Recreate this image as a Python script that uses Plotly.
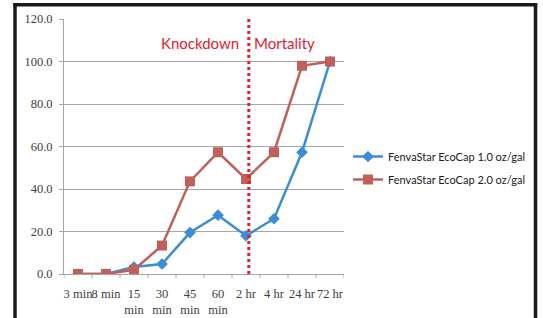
import plotly.graph_objects as go

categories = ["3 min", "8 min", "15<br>min", "30<br>min", "45<br>min", "60<br>min",
              "2 hr", "4 hr", "24 hr", "72 hr"]
series1_name = "FenvaStar EcoCap 1.0 oz/gal"
series1 = [0.0, 0.0, 3.3, 4.7, 19.5, 27.7, 18.0, 26.0, 57.3, 100.0]
series2_name = "FenvaStar EcoCap 2.0 oz/gal"
series2 = [0.0, 0.0, 2.0, 13.4, 43.6, 57.3, 44.7, 57.3, 98.0, 100.0]
y_ticks = [0, 20, 40, 60, 80, 100, 120]

blue = "#3b8ed4"
red = "#c1605a"
grid = "#a6a6a6"

fig = go.Figure()
fig.add_trace(go.Scatter(
    x=list(range(len(categories))), y=series1, name=series1_name, mode="lines+markers",
    line=dict(color=blue, width=2.5), marker=dict(symbol="diamond", size=9, color=blue),
    legendgroup="a"))
fig.add_trace(go.Scatter(
    x=list(range(len(categories))), y=series2, name=series2_name, mode="lines+markers",
    line=dict(color=red, width=2.5), marker=dict(symbol="square", size=10, color=red),
    legendgroup="b"))

L, T, W, H = 64, 19, 280, 255

def px(x):
    return (x - L) / W

def py(y):
    return (T + H - y) / H

fig.update_layout(
    width=543, height=318,
    margin=dict(l=L, r=543 - L - W, t=T, b=318 - T - H, autoexpand=False),
    paper_bgcolor="white", plot_bgcolor="white",
    showlegend=True,
    legend=dict(x=px(348), y=py(142), xanchor="left", yanchor="top",
                font=dict(family="Lato", size=11, color="#202020"),
                tracegroupgap=4, traceorder="grouped", bgcolor="rgba(0,0,0,0)"),
    xaxis=dict(
        tickmode="array", tickvals=list(range(len(categories))), ticktext=categories,
        range=[-0.5, len(categories) - 0.5], tickangle=0,
        showgrid=False, showline=True, linecolor=grid, linewidth=1,
        ticks="", ticklabelstandoff=8,
        tickfont=dict(family="Liberation Serif", size=12.5, color="#404040"),
        zeroline=False),
    yaxis=dict(
        range=[0, 120], tickvals=y_ticks, tickformat=".1f",
        showgrid=True, gridcolor=grid, gridwidth=1,
        showline=True, linecolor=grid, linewidth=1,
        ticks="outside", ticklen=4, tickcolor=grid, ticklabelstandoff=4,
        tickfont=dict(family="Liberation Serif", size=12.5, color="#404040"),
        zeroline=False),
)

shapes = []
# category boundary tick marks on the x axis
for i in range(len(categories) + 1):
    shapes.append(dict(type="line", xref="x", yref="paper", x0=i - 0.5, x1=i - 0.5,
                       y0=0, y1=-4 / H, line=dict(color=grid, width=1)))
# dotted divider
shapes.append(dict(type="line", xref="x", yref="y", x0=6.1, x1=6.1, y0=0, y1=121.5,
                   line=dict(color="#e0202e", width=3, dash="dot")))
# frame (three visible sides)
frame = dict(color="#1a1a1a", width=3.5)
shapes.append(dict(type="line", xref="paper", yref="paper", x0=px(15), x1=px(15),
                   y0=py(3), y1=py(330), line=frame))
shapes.append(dict(type="line", xref="paper", yref="paper", x0=px(535.5), x1=px(535.5),
                   y0=py(3), y1=py(330), line=frame))
shapes.append(dict(type="rect", xref="paper", yref="paper", x0=px(13.3), x1=px(537.2),
                   y0=py(6.4), y1=py(3.0), fillcolor="#1a1a1a", line=dict(width=0)))
fig.update_layout(shapes=shapes)

fig.add_annotation(text="Knockdown", xref="paper", yref="paper", x=px(200), y=py(43),
                   xanchor="center", yanchor="middle",
                   showarrow=False, font=dict(family="Lato", size=15, color="#e0202e"))
fig.add_annotation(text="Mortality", xref="paper", yref="paper", x=px(284), y=py(43),
                   xanchor="center", yanchor="middle",
                   showarrow=False, font=dict(family="Lato", size=15, color="#e0202e"))

fig.write_html("out.html", config={"displayModeBar": False},
               post_script="document.body.style.margin='0';")
